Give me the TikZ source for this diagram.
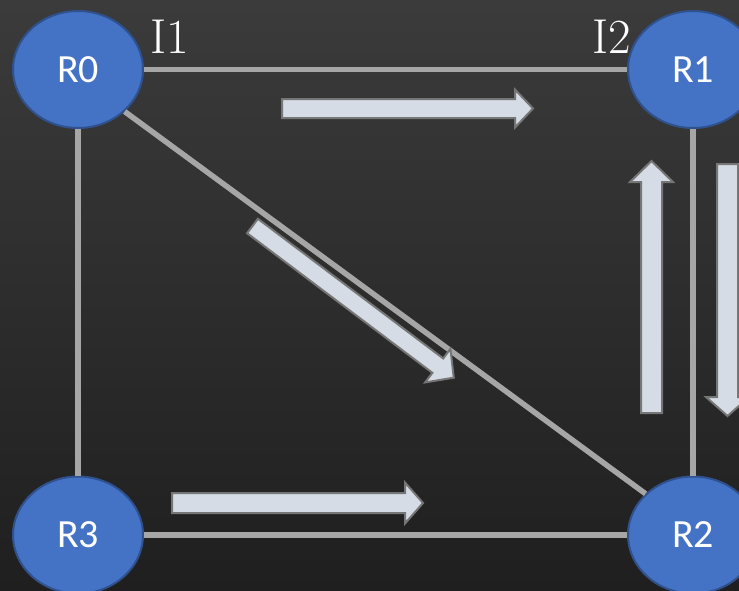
\documentclass[tikz,border=0pt]{standalone}
\usepackage{fontspec}
\usetikzlibrary{shapes.geometric}
\newfontfamily\routerfont{Carlito}

\definecolor{bgtop}{RGB}{59,59,59}
\definecolor{bgbottom}{RGB}{31,31,31}
\definecolor{routerfill}{RGB}{68,114,196}
\definecolor{routerline}{RGB}{47,82,143}
\definecolor{linkgray}{RGB}{166,166,166}
\definecolor{flowfill}{RGB}{214,220,229}
\definecolor{flowline}{RGB}{118,118,118}

\tikzset{
  router/.style={ellipse, fill=routerfill, draw=routerline, line width=2pt,
    minimum width=130pt, minimum height=117pt, inner sep=0pt,
    text=white, font=\routerfont\fontsize{40}{48}\selectfont},
  iface/.style={text=white, inner sep=0pt, font=\fontsize{49}{57}\selectfont},
  link/.style={draw=linkgray, line width=5.5pt},
  flow/.style={fill=flowfill, draw=flowline, line width=2pt, line join=miter}
}

% block arrow: tail centre (#1,#2), direction #3, length #4,
% shaft half-width #5, head half-width #6, head length #7
\newcommand\blockarrow[7]{%
  \draw[flow, shift={(#1,#2)}, rotate=#3]
    (0,-#5) -- ({#4-#7},-#5) -- ({#4-#7},-#6) -- (#4,0)
    -- ({#4-#7},#6) -- ({#4-#7},#5) -- (0,#5) -- cycle;}

\begin{document}
\begin{tikzpicture}[x=1pt, y=-1pt]
  \useasboundingbox (0,0) rectangle (739,590);
  \shade[top color=bgtop, bottom color=bgbottom] (0,0) rectangle (739,590);

  % interface labels
  \node[iface] (I1) at (170,37) {I1};
  \node[iface] (I2) at (612,37) {I2};

  % routers
  \node[router] (R0) at (78,69.5)  {R0};
  \node[router] (R1) at (693,69.5) {R1};
  \node[router] (R2) at (693,535)  {R2};
  \node[router] (R3) at (78,535)   {R3};

  % links
  \draw[link] (R0) -- (R1);
  \draw[link] (R0) -- (R3);
  \draw[link] (R1) -- (R2);
  \draw[link] (R3) -- (R2);
  \draw[link] (R0.-42) -- (R2.139);

  % traffic directions
  \blockarrow{282}{108.5}{0}{251}{9.5}{19}{18}
  \blockarrow{252.5}{226}{-37}{252}{9}{21}{20}
  \blockarrow{651.5}{413}{90}{252}{10.5}{21.5}{21}
  \blockarrow{727.5}{164}{-90}{252}{10.5}{21.5}{19}
  \blockarrow{172}{503}{0}{251}{10}{20.5}{18}
\end{tikzpicture}
\end{document}
